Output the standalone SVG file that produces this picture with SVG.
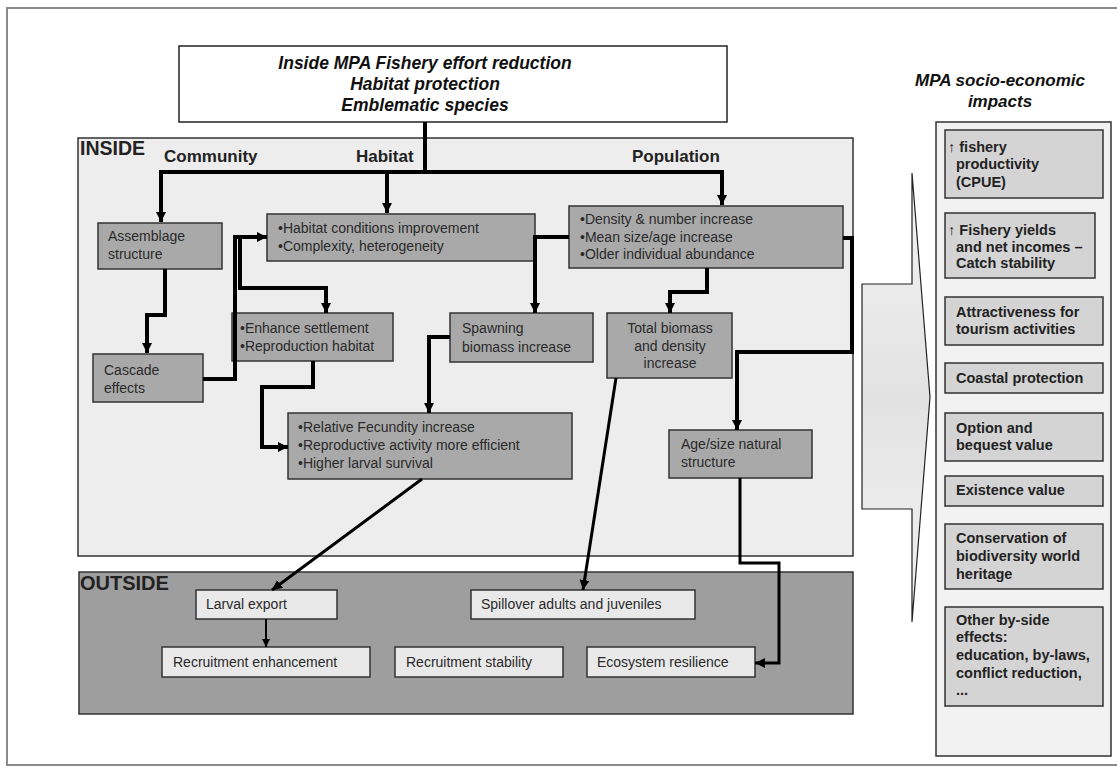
<svg xmlns="http://www.w3.org/2000/svg" width="1117" height="769" viewBox="0 0 1117 769">
<defs>
<marker id="ah" viewBox="0 0 10 10" refX="10" refY="5" markerWidth="10" markerHeight="10" markerUnits="userSpaceOnUse" orient="auto">
<path d="M0,0 L10,5 L0,10 z" fill="#000"/>
</marker>
<marker id="ahs" viewBox="0 0 10 10" refX="10" refY="5" markerWidth="8" markerHeight="8" markerUnits="userSpaceOnUse" orient="auto">
<path d="M0,0 L10,5 L0,10 z" fill="#000"/>
</marker>
<linearGradient id="arrowfill" x1="0" y1="0" x2="0" y2="1">
<stop offset="0" stop-color="#f4f4f4"/>
<stop offset="0.5" stop-color="#e2e2e2"/>
<stop offset="1" stop-color="#f4f4f4"/>
</linearGradient>
</defs>
<style>
.frame{fill:#ffffff;stroke:#8a8a8a;stroke-width:2}
.dark{fill:#a9a9a9;stroke:#333;stroke-width:1.5}
.light{fill:#e9e9e9;stroke:#333;stroke-width:1.5}
.imp{fill:#d4d4d4;stroke:#333;stroke-width:1.5}
.t{font-family:"Liberation Sans",Arial,sans-serif;font-size:14px;fill:#2a2a2a}
.b{font-family:"Liberation Sans",Arial,sans-serif;font-size:14.5px;font-weight:bold;fill:#222}
.h{font-family:"Liberation Sans",Arial,sans-serif;font-size:17px;font-weight:bold;fill:#222}
.bi{font-family:"Liberation Sans",Arial,sans-serif;font-weight:bold;font-style:italic;fill:#111}
.c{fill:none;stroke:#000;stroke-width:4;stroke-linejoin:miter}
.c3{fill:none;stroke:#000;stroke-width:3}
.c2{fill:none;stroke:#000;stroke-width:2}
</style>
<rect x="7" y="8" width="1115" height="757" class="frame"/>

<g id="inside-region">
<rect x="78" y="138" width="775" height="418" fill="#ededed" stroke="#333" stroke-width="1.5"/>
<text x="80" y="155" class="h" style="font-size:19.5px">INSIDE</text>
<text x="164" y="162" class="h">Community</text>
<text x="356" y="162" class="h">Habitat</text>
<text x="632" y="162" class="h">Population</text>
</g>

<g id="outside-region">
<rect x="79" y="572" width="774" height="142" fill="#9e9e9e" stroke="#333" stroke-width="1.5"/>
<text x="80" y="590" class="h" style="font-size:20px">OUTSIDE</text>
</g>

<g id="top">
<rect x="179" y="46" width="548" height="76" fill="#fff" stroke="#222" stroke-width="1.5"/>
<text x="425" y="69" text-anchor="middle" class="bi" font-size="17.5">Inside MPA Fishery effort reduction</text>
<text x="425" y="90" text-anchor="middle" class="bi" font-size="17.5">Habitat protection</text>
<text x="425" y="111" text-anchor="middle" class="bi" font-size="17.5">Emblematic species</text>
</g>

<g id="assemblage">
<rect x="98" y="223" width="124" height="46" class="dark"/>
<text x="108" y="241" class="t">Assemblage</text>
<text x="108" y="259" class="t">structure</text>
</g>

<g id="cascade">
<rect x="93" y="354" width="110" height="48" class="dark"/>
<text x="104" y="375" class="t">Cascade</text>
<text x="104" y="393" class="t">effects</text>
</g>

<g id="habitat">
<rect x="267" y="214" width="268" height="47" class="dark"/>
<text x="278" y="233" class="t">•Habitat conditions improvement</text>
<text x="278" y="251" class="t">•Complexity, heterogeneity</text>
</g>

<g id="population">
<rect x="569" y="206" width="274" height="62" class="dark"/>
<text x="580" y="224" class="t">•Density &amp; number increase</text>
<text x="580" y="242" class="t">•Mean size/age increase</text>
<text x="580" y="259" class="t">•Older individual abundance</text>
</g>

<g id="enhance">
<rect x="232" y="313" width="161" height="48" class="dark"/>
<text x="240" y="333" class="t">•Enhance settlement</text>
<text x="240" y="351" class="t">•Reproduction habitat</text>
</g>

<g id="spawning">
<rect x="450" y="313" width="143" height="49" class="dark"/>
<text x="462" y="333" class="t">Spawning</text>
<text x="462" y="352" class="t">biomass increase</text>
</g>

<g id="total">
<rect x="607" y="313" width="125" height="65" class="dark"/>
<text x="670" y="333" text-anchor="middle" class="t">Total biomass</text>
<text x="670" y="351" text-anchor="middle" class="t">and density</text>
<text x="670" y="368" text-anchor="middle" class="t">increase</text>
</g>

<g id="fecundity">
<rect x="288" y="413" width="284" height="66" class="dark"/>
<text x="298" y="432" class="t">•Relative Fecundity increase</text>
<text x="298" y="450" class="t">•Reproductive activity more efficient</text>
<text x="298" y="468" class="t">•Higher larval survival</text>
</g>

<g id="agesize">
<rect x="669" y="430" width="143" height="48" class="dark"/>
<text x="681" y="449" class="t">Age/size natural</text>
<text x="681" y="467" class="t">structure</text>
</g>

<g id="larval">
<rect x="196" y="590" width="141" height="29" class="light"/>
<text x="206" y="609" class="t">Larval export</text>
</g>

<g id="spillover">
<rect x="471" y="590" width="224" height="29" class="light"/>
<text x="481" y="609" class="t">Spillover adults and juveniles</text>
</g>

<g id="recruit-enh">
<rect x="162" y="647" width="208" height="30" class="light"/>
<text x="173" y="667" class="t">Recruitment enhancement</text>
</g>

<g id="recruit-stab">
<rect x="395" y="647" width="168" height="30" class="light"/>
<text x="406" y="667" class="t">Recruitment stability</text>
</g>

<g id="ecosystem">
<rect x="587" y="647" width="168" height="30" class="light"/>
<text x="597" y="667" class="t">Ecosystem resilience</text>
</g>

<g id="connectors">
<path class="c" d="M425,122 V172 H161 V222" marker-end="url(#ah)"/>
<path class="c" d="M425,172 H722 V205" marker-end="url(#ah)"/>
<path class="c" d="M387,172 V213" marker-end="url(#ah)"/>
<path class="c" d="M165,269 V315 H147 V353" marker-end="url(#ah)"/>
<path class="c" d="M203,379 H235 V237 H267" marker-end="url(#ah)"/>
<path class="c" d="M240,237 V288 H326 V313" marker-end="url(#ah)"/>
<path class="c" d="M313,361 V387 H262 V447 H288" marker-end="url(#ah)"/>
<path class="c" d="M569,237 H535 V313" marker-end="url(#ah)"/>
<path class="c" d="M450,337 H429 V413" marker-end="url(#ah)"/>
<path class="c" d="M707,268 V292 H670 V313" marker-end="url(#ah)"/>
<path class="c" d="M843,238 H852 V352 H737 V430" marker-end="url(#ah)"/>
<path class="c3" d="M422,479 L272,590" marker-end="url(#ah)"/>
<path class="c3" d="M616,378 L583,590" marker-end="url(#ah)"/>
<path class="c3" d="M740,478 V563 H779 V663 H755" marker-end="url(#ah)"/>
<path class="c2" d="M266,619 V647" marker-end="url(#ahs)"/>
</g>

<g id="big-arrow">
<path d="M862,284 H912 V173 L930,397 L912,622 V509 H862 Z" fill="url(#arrowfill)" stroke="#222" stroke-width="1.2"/>
</g>

<g id="impacts">
<text x="1000" y="86" text-anchor="middle" class="bi" font-size="17">MPA socio-economic</text>
<text x="1000" y="107" text-anchor="middle" class="bi" font-size="17">impacts</text>
<rect x="936" y="122" width="175" height="634" fill="#f2f2f2" stroke="#333" stroke-width="1.5"/>
</g>

<g id="imp-cpue">
<rect x="945" y="130" width="158" height="68" class="imp"/>
<text x="948" y="152" class="b"><tspan font-weight="normal">↑</tspan> fishery</text>
<text x="956" y="169" class="b">productivity</text>
<text x="956" y="187" class="b">(CPUE)</text>
</g>

<g id="imp-yields">
<rect x="945" y="213" width="150" height="65" class="imp"/>
<text x="948" y="235" class="b"><tspan font-weight="normal">↑</tspan> Fishery yields</text>
<text x="956" y="252" class="b">and net incomes –</text>
<text x="956" y="268" class="b">Catch stability</text>
</g>

<g id="imp-tourism">
<rect x="945" y="297" width="158" height="48" class="imp"/>
<text x="956" y="317" class="b">Attractiveness for</text>
<text x="956" y="334" class="b">tourism activities</text>
</g>

<g id="imp-coastal">
<rect x="945" y="363" width="158" height="30" class="imp"/>
<text x="956" y="383" class="b">Coastal protection</text>
</g>

<g id="imp-option">
<rect x="945" y="413" width="158" height="48" class="imp"/>
<text x="956" y="433" class="b">Option and</text>
<text x="956" y="450" class="b">bequest value</text>
</g>

<g id="imp-existence">
<rect x="945" y="476" width="158" height="30" class="imp"/>
<text x="956" y="495" class="b">Existence value</text>
</g>

<g id="imp-conservation">
<rect x="945" y="524" width="158" height="65" class="imp"/>
<text x="956" y="543" class="b">Conservation of</text>
<text x="956" y="561" class="b">biodiversity world</text>
<text x="956" y="579" class="b">heritage</text>
</g>

<g id="imp-other">
<rect x="945" y="607" width="158" height="99" class="imp"/>
<text x="956" y="625" class="b">Other by-side</text>
<text x="956" y="642" class="b">effects:</text>
<text x="956" y="660" class="b">education, by-laws,</text>
<text x="956" y="678" class="b">conflict reduction,</text>
<text x="956" y="695" class="b">...</text>
</g>
</svg>
